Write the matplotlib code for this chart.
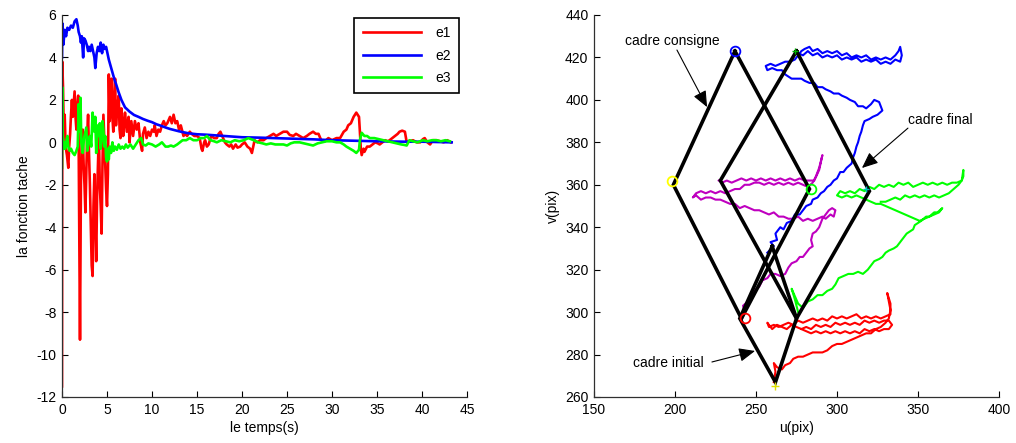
import matplotlib
matplotlib.use("Agg")
import matplotlib.pyplot as plt
import numpy as np

plt.rcParams['font.family'] = ['Liberation Sans', 'DejaVu Sans']
plt.rcParams['font.size'] = 10
plt.rcParams['axes.unicode_minus'] = False

# ---------------- Left chart data (task function vs time) ----------------
e1_t = [0, 0.03, 0.12, 0.2, 0.3, 0.4, 0.55, 0.7, 0.8, 0.9, 1.0, 1.1, 1.2, 1.3, 1.4, 1.5, 1.6, 1.7, 1.8, 1.85,
        1.9, 2.0, 2.05, 2.1, 2.2, 2.3, 2.4, 2.5, 2.6, 2.7, 2.8, 2.9, 3.0, 3.1, 3.2, 3.3, 3.4, 3.5, 3.6, 3.7,
        3.8, 3.9, 4.0, 4.1, 4.2, 4.3, 4.4, 4.5, 4.6, 4.7, 4.8, 4.9, 5.0, 5.1, 5.2, 5.3, 5.4, 5.5, 5.6, 5.7,
        5.8, 5.9, 6.0, 6.1, 6.3, 6.4, 6.5, 6.6, 6.8, 6.9, 7.0, 7.2, 7.4, 7.5, 7.7, 7.9, 8.1, 8.3, 8.5, 8.7,
        8.9, 9.0, 9.2, 9.4, 9.6, 9.8, 10.0, 10.2, 10.3, 10.5, 10.7, 10.9, 11.1, 11.3, 11.5, 11.7, 12.0, 12.2,
        12.4, 12.6, 12.8, 13.0, 13.2, 13.5, 13.7, 13.9, 14.2, 14.4, 14.7, 15.0, 15.3, 15.5, 15.6, 15.8, 15.9,
        16.1, 16.3, 16.5, 16.6, 16.9, 17.2, 17.4, 17.6, 17.9, 18.1, 18.3, 18.6, 18.8, 19.0, 19.3, 19.5, 19.8,
        20.0, 20.3, 20.6, 20.9, 21.1, 21.3, 21.4, 21.7, 22.0, 22.4, 22.7, 23.1, 23.5, 23.8, 24.2, 24.6, 25.0,
        25.3, 25.7, 26.0, 26.4, 26.8, 27.2, 27.5, 27.9, 28.2, 28.5, 28.8, 29.2, 29.6, 30.0, 30.5, 30.9, 31.3,
        31.6, 31.8, 32.1, 32.4, 32.7, 33.0, 33.1, 33.2, 33.3, 33.5, 33.6, 33.9, 34.2, 34.5, 34.8, 35.1, 35.3,
        35.6, 35.9, 36.2, 36.4, 36.7, 37.0, 37.3, 37.5, 37.8, 38.1, 38.3, 38.6, 39.0, 39.4, 39.8, 40.1, 40.3,
        40.6, 40.9, 41.2, 41.6, 42.0, 42.4, 42.8, 43.2]
e1_v = [-11.5, 3.8, 2.5, 0.4, 1.3, -0.2, -0.6, -1.2, -0.2, 0.4, 1.3, 2.0, 1.2, 1.8, 2.4, 1.2, 0.6, 1.7, 2.2, 0.0,
        -3.0, -9.3, -6.0, -2.0, 0.3, 0.6, -1.0, -2.0, -3.3, -1.5, 0.4, 1.3, -0.5, -2.0, -4.0, -5.8, -6.3, -3.0, -1.5, -3.5,
        -5.6, -2.5, -1.0, 0.5, -2.0, -3.0, -4.3, -1.0, 1.3, 0.2, -1.0, -2.2, -3.0, -1.5, 3.2, 1.0, 2.0, 3.0, 1.2, 0.5,
        2.2, 3.0, 0.8, 1.5, 2.2, 0.6, 0.2, 1.6, 0.3, 0.9, 1.4, 0.5, 1.2, 0.0, 1.0, 0.3, 1.0, 0.6, 0.9, 0.0,
        -0.4, 0.4, 0.7, 0.2, 0.5, 0.3, 0.6, 0.5, 0.8, 0.3, 0.6, 0.5, 0.8, 1.0, 0.8, 0.9, 1.2, 0.9,
        1.3, 0.9, 1.0, 0.6, 0.8, 0.3, 0.4, 0.3, 0.5, 0.4, 0.3, 0.3, 0.2, -0.3, -0.4, 0.0, 0.1,
        -0.2, -0.1, 0.2, 0.3, 0.2, 0.2, 0.4, 0.5, 0.2, 0.0, -0.1, -0.2, -0.1, -0.3, -0.1, -0.25, -0.2,
        -0.1, 0.0, -0.2, -0.3, -0.5, -0.1, 0.1, 0.0, 0.1, 0.1, 0.2, 0.3, 0.4, 0.3, 0.4, 0.5, 0.5,
        0.35, 0.3, 0.4, 0.3, 0.2, 0.3, 0.4, 0.5, 0.4, 0.4, 0.1, 0.05, 0.2, 0.1, 0.2, 0.2, 0.5,
        0.6, 0.8, 0.9, 1.2, 1.4, 1.2, 0.5, -0.3, -0.6, -0.3, -0.45, -0.2, -0.2, -0.1, 0.0, -0.05, -0.1,
        0.0, 0.1, 0.05, 0.1, 0.2, 0.3, 0.4, 0.5, 0.55, 0.5, 0.0, 0.05, 0.1, 0.0, 0.0, 0.15, 0.2,
        0.0, -0.1, 0.1, 0.1, 0.05, 0.0, 0.1, 0.0]

e2_t = [0, 0.05, 0.15, 0.3, 0.45, 0.6, 0.8, 1.0, 1.2, 1.4, 1.6, 1.75, 1.85, 2.0, 2.1, 2.2, 2.35, 2.45, 2.6, 2.75,
        2.9, 3.0, 3.15, 3.3, 3.45, 3.6, 3.7, 3.85, 4.0, 4.15, 4.3, 4.45, 4.6, 4.75, 4.9, 5.05, 5.2, 5.4, 5.6, 5.8,
        6.0, 6.3, 6.6, 7.0, 7.5, 8.0, 8.5, 9.0, 9.5, 10.0, 10.5, 11.0, 11.5, 12.0, 13.0, 14.0, 15.0, 16.0, 17.0,
        18.0, 19.0, 20.0, 22.0, 25.0, 28.0, 30.0, 33.0, 35.0, 38.0, 40.0, 43.3]
e2_v = [4.0, 5.6, 4.6, 5.3, 5.0, 5.4, 5.3, 5.5, 5.4, 5.7, 5.8, 5.5, 5.2, 5.0, 4.7, 5.0, 4.0, 4.9, 4.8, 4.6,
        4.3, 4.5, 4.3, 4.6, 4.3, 4.0, 3.5, 4.2, 4.5, 4.3, 4.7, 4.2, 4.6, 4.4, 4.5, 4.2, 3.9, 3.6, 3.3, 3.0,
        2.75, 2.35, 2.0, 1.65, 1.45, 1.29, 1.2, 1.1, 1.02, 0.95, 0.85, 0.78, 0.7, 0.63, 0.52, 0.43, 0.38, 0.36, 0.33,
        0.3, 0.27, 0.24, 0.22, 0.18, 0.14, 0.1, 0.07, 0.05, 0.03, 0.03, 0.0]

e3_t = [0, 0.03, 0.08, 0.15, 0.25, 0.35, 0.5, 0.6, 0.7, 0.85, 1.0, 1.2, 1.4, 1.6, 1.75, 1.85, 1.95, 2.05, 2.15, 2.3,
        2.45, 2.6, 2.7, 2.8, 2.95, 3.1, 3.25, 3.4, 3.5, 3.6, 3.7, 3.8, 3.9, 4.0, 4.1, 4.2, 4.3, 4.4, 4.5, 4.6,
        4.7, 4.8, 4.9, 5.0, 5.1, 5.2, 5.3, 5.45, 5.6, 5.75, 5.9, 6.1, 6.3, 6.5, 6.7, 6.9, 7.1, 7.3, 7.6, 7.9,
        8.2, 8.5, 8.8, 9.0, 9.3, 9.6, 10.0, 10.4, 10.8, 11.1, 11.5, 11.8, 12.1, 12.4, 12.8, 13.1, 13.4, 13.8,
        14.2, 14.6, 15.0, 15.4, 15.8, 16.1, 16.5, 16.9, 17.2, 17.7, 18.2, 18.7, 19.2, 19.7, 20.2, 20.7, 21.3,
        21.8, 22.3, 22.7, 23.2, 23.7, 24.2, 24.6, 25.0, 25.4, 25.8, 26.4, 26.9, 27.4, 27.9, 28.4, 28.9, 29.4,
        30.0, 30.5, 30.9, 31.3, 31.6, 32.0, 32.4, 32.7, 33.0, 33.1, 33.3, 33.6, 33.9, 34.2, 34.7, 35.2, 35.7,
        36.2, 36.7, 37.2, 37.7, 38.0, 38.3, 38.6, 39.0, 39.5, 40.1, 40.6, 41.1, 41.6, 42.1, 42.6, 43.1]
e3_v = [-1.2, 2.6, 0.5, -0.3, 0.0, -0.3, 0.1, 0.3, -0.2, -0.4, -0.3, -0.5, -0.6, -0.4, -0.2, 1.8, 0.5, 2.1, 0.0, -0.5,
        0.2, 0.5, 0.7, -0.4, 0.0, 0.3, -0.2, 1.4, 0.9, 0.5, 1.2, -0.5, 0.2, 0.8, 0.3, 0.9, -0.3, 0.2, 1.0, 0.6,
        -0.2, 0.3, -0.7, -0.9, -0.3, -0.8, -0.2, -0.5, 0.0, -0.4, -0.2, -0.35, -0.1, -0.3, -0.2, -0.3, -0.1, -0.25, -0.1, -0.3,
        -0.1, 0.1, 0.2, -0.1, -0.15, -0.05, -0.1, -0.2, -0.1, 0.0, -0.2, -0.2, -0.15, -0.2, -0.1, 0.0, 0.1, 0.1,
        0.2, 0.1, 0.1, 0.2, 0.2, 0.3, 0.1, 0.05, 0.0, 0.1, 0.05, 0.0, 0.1, 0.05, 0.1, 0.2, 0.1,
        0.0, -0.05, -0.1, -0.05, -0.1, -0.1, -0.1, -0.15, -0.05, 0.0, 0.0, -0.05, -0.1, -0.15, -0.05, 0.0, 0.05,
        0.05, 0.0, 0.0, -0.1, -0.2, -0.3, -0.4, -0.5, -0.35, 0.1, 0.45, 0.3, 0.3, 0.2, 0.2, 0.15, 0.1,
        0.05, 0.0, -0.05, -0.1, -0.12, -0.15, 0.1, 0.05, 0.0, 0.1, 0.05, 0.1, 0.1, 0.05, 0.1, 0.05]

left_xticks = [0, 5, 10, 15, 20, 25, 30, 35, 40, 45]
left_yticks = [-12, -10, -8, -6, -4, -2, 0, 2, 4, 6]

# ---------------- Right chart data (image plane trajectories) ----------------
consigne_u = [237, 283, 241, 199, 237]
consigne_v = [423, 358, 297, 360, 423]
final_u = [275, 320, 275, 228, 275]
final_v = [423, 357, 297, 362, 423]
initial_u = [260, 275, 262, 240, 260]
initial_v = [331, 297, 267, 297, 331]

consigne_pts_u = [237, 198, 284, 243]
consigne_pts_v = [423, 362, 358, 297]
consigne_pts_c = ['#0000ff', '#ffff00', '#00ff00', '#ff0000']

blue_path = [(257,328),(261,331),(259,333),(263,334),(262,337),(265,340),(267,339),(269,342),(272,343),(274,346),
             (277,346),(279,348),(281,350),(284,351),(285,353),(288,354),(290,356),(292,357),(294,359),(296,360),
             (298,362),(300,363),(302,366),(304,366),(306,368),(309,370),(310,373),(311,375),(312,378),(313,380),
             (314,383),(315,385),(316,388),(317,390),(320,391),(322,392),(325,393),(328,395),(327,397),(326,399),
             (323,400),(321,398),(318,396),(316,397),(313,397),(311,399),(308,400),(306,401),(303,402),(301,403),
             (298,403),(296,404),(293,405),(291,406),(288,406),(286,408),(283,408),(280,409),(278,410),(275,410),
             (272,410),(270,411),(268,412),(266,414),(263,414),(260,415),(257,414),(256,416),(259,417),(262,416),
             (265,417),(268,418),(271,418),(274,419),(276,421),(278,423),(280,424),(283,425),(285,423),(288,424),
             (291,422),(294,423),(297,422),(300,423),(303,421),(306,422),(309,420),(312,421),(315,420),(318,421),
             (321,419),(324,420),(327,419),(330,420),(333,419),(336,421),(338,423),(339,425),(340,421),(339,418),
             (336,419),(333,417),(330,418),(327,417),(324,419),(321,418),(318,419),(315,418),(312,420),(309,419),
             (306,420),(303,419),(300,421),(297,420),(294,421),(291,420),(288,422),(285,421),(282,423),(279,421),
             (276,422)]

magenta_path = [(241,296),(243,300),(242,303),(245,305),(247,308),(249,310),(252,312),(254,315),(257,316),(259,318),
                (262,318),(265,317),(268,318),(270,321),(272,323),(275,324),(277,326),(279,326),(281,328),(283,330),
                (285,331),(284,334),(285,337),(287,338),(289,340),(290,342),(291,344),(293,346),(295,348),(297,349),
                (299,348),(298,345),(296,346),(293,344),(291,345),(288,344),(285,343),(282,344),(279,343),(276,345),
                (273,344),(270,344),(267,345),(264,345),(261,347),(258,346),(255,347),(252,348),(249,348),(246,349),
                (243,350),(240,349),(237,351),(234,351),(231,352),(228,353),(225,353),(222,354),(219,354),(216,353),
                (213,355),(211,354),(213,356),(216,357),(219,356),(222,357),(225,356),(228,357),(231,356),(234,357),
                (237,358),(240,358),(243,360),(246,360),(249,361),(252,361),(255,360),(258,361),(261,360),(264,361),
                (267,360),(270,361),(273,360),(276,361),(279,360),(282,359),(285,361),(287,364),(289,368),(291,374),
                (289,367),(286,362),(283,362),(280,362),(277,363),(274,362),(271,363),(268,362),(265,363),(262,362),
                (259,363),(256,362),(253,363),(250,362),(247,363),(244,362),(241,363),(238,362),(235,361),(232,362),
                (229,361),(227,362)]

green_path = [(276,300),(274,306),(272,311),(276,304),(279,302),(282,305),(285,306),(288,308),(291,308),(294,310),
              (297,311),(299,313),(301,316),(304,317),(307,318),(310,318),(313,319),(316,318),(319,320),(321,322),
              (323,324),(326,325),(328,326),(330,328),(332,329),(335,330),(337,331),(339,333),(341,335),(343,337),
              (345,338),(347,339),(348,341),(350,342),(352,343),(355,345),(357,345),(360,347),(362,347),(365,349),
              (363,347),(360,346),(357,345),(354,344),(351,343),(348,344),(345,345),(342,346),(339,347),(336,348),
              (333,349),(330,350),(327,351),(324,351),(321,352),(318,353),(315,354),(312,355),(309,354),(306,355),
              (303,354),(300,355),(302,357),(305,356),(308,357),(311,356),(314,358),(317,357),(320,359),(323,358),
              (326,360),(329,359),(332,360),(335,359),(338,361),(341,360),(344,361),(347,359),(350,360),(353,361),
              (356,360),(359,361),(362,360),(365,361),(368,360),(371,361),(374,361),(377,362),(378,364),(378,367),
              (377,362),(375,360),(372,358),(369,356),(366,355),(363,354),(360,355),(357,354),(354,355),(351,354),
              (348,355),(345,354),(342,355),(339,353),(336,354),(333,353),(330,352),(327,352)]

red_path = [(261,267),(262,272),(261,276),(263,274),(266,273),(268,275),(271,276),(273,278),(276,279),(279,279),
            (282,280),(285,281),(288,281),(291,281),(294,282),(297,284),(300,285),(303,285),(306,286),(309,287),
            (312,288),(315,289),(318,290),(321,290),(324,292),(327,293),(330,295),(332,297),(333,301),(332,305),
            (331,309),(333,304),(333,299),(330,298),(327,297),(324,298),(321,297),(318,298),(315,297),(312,299),
            (309,298),(306,297),(303,298),(300,297),(297,298),(294,296),(291,297),(288,296),(285,297),(282,296),
            (279,295),(276,296),(273,294),(270,295),(267,294),(264,293),(261,294),(258,293),(257,295),(260,292),
            (263,294),(266,293),(269,292),(272,294),(275,293),(278,292),(281,293),(284,292),(287,294),(290,293),
            (293,294),(296,293),(299,295),(302,294),(305,295),(308,294),(311,295),(314,294),(317,296),(320,295),
            (323,296),(326,295),(329,296),(332,296),(334,294),(332,292),(329,292),(326,291),(323,292),(320,291),
            (317,292),(314,290),(311,291),(308,290),(305,291),(302,290),(299,291),(296,290),(293,291),(290,290),
            (287,291),(284,290),(281,291),(278,292)]

right_xticks = [150, 200, 250, 300, 350, 400]
right_yticks = [260, 280, 300, 320, 340, 360, 380, 400, 420, 440]

# ---------------- Figure ----------------
W, H = 1016, 443
fig = plt.figure(figsize=(W / 100, H / 100), dpi=100)

def fax(l, r, t, b):
    return fig.add_axes([l / W, 1 - b / H, (r - l) / W, (b - t) / H])

def style(ax):
    for s in ['top', 'right']:
        ax.spines[s].set_visible(False)
    for s in ['left', 'bottom']:
        ax.spines[s].set_color('#303030')
        ax.spines[s].set_linewidth(0.9)
    ax.tick_params(direction='in', length=4, width=0.8, pad=4, labelsize=10, colors='black')

ax1 = fax(62, 467, 15, 397)
style(ax1)
l1, = ax1.plot(e1_t, e1_v, color='#ff0000', lw=1.9, label='e1')
l2, = ax1.plot(e2_t, e2_v, color='#0000ff', lw=1.9, label='e2')
l3, = ax1.plot(e3_t, e3_v, color='#00ff00', lw=1.9, label='e3')
ax1.set_xlim(0, 45)
ax1.set_ylim(-12, 6)
ax1.set_xticks(left_xticks)
ax1.set_yticks(left_yticks)
ax1.set_xlabel('le temps(s)', fontsize=10, labelpad=3)
ax1.set_ylabel('la fonction tache', fontsize=10, labelpad=4)
leg = ax1.legend(handles=[l1, l2, l3], loc='upper right', bbox_to_anchor=(459 / W, 1 - 18 / H),
                 bbox_transform=fig.transFigure, fancybox=False, framealpha=1, edgecolor='black',
                 handlelength=4.2, handletextpad=1.0, labelspacing=0.6, borderpad=0.6, fontsize=10,
                 borderaxespad=0)
leg.get_frame().set_linewidth(1.2)

ax2 = fax(594, 999, 15, 397)
style(ax2)
ax2.set_xlim(150, 400)
ax2.set_ylim(260, 440)
ax2.set_xticks(right_xticks)
ax2.set_yticks(right_yticks)
ax2.set_xlabel('u(pix)', fontsize=10, labelpad=3)
ax2.set_ylabel('v(pix)', fontsize=10, labelpad=4)

for path, col in [(magenta_path, '#bf00bf'), (blue_path, '#0000ff'), (green_path, '#00ff00'), (red_path, '#ff0000')]:
    pu = [p[0] for p in path]
    pv = [p[1] for p in path]
    ax2.plot(pu, pv, color=col, lw=1.5)

for du, dv in [(consigne_u, consigne_v), (final_u, final_v), (initial_u, initial_v)]:
    ax2.plot(du, dv, color='black', lw=2.6, solid_joinstyle='miter', zorder=3)

for pu, pv, c in zip(consigne_pts_u, consigne_pts_v, consigne_pts_c):
    ax2.plot([pu], [pv], marker='o', mfc='none', mec=c, ms=7, mew=1.3, zorder=4)
ax2.plot([262], [265], marker='+', color='#e0e000', ms=6, mew=1, zorder=4)
ax2.plot([318], [358], marker='+', color='#00c0c0', ms=5, mew=1, zorder=4)
ax2.plot([274], [423], marker='+', color='#00b000', ms=5, mew=1, zorder=4)

arrow = dict(arrowstyle='-|>,head_length=0.7,head_width=0.3', lw=0.8, color='black',
             shrinkA=0, shrinkB=0, mutation_scale=14)
ax2.text(169, 427.7, 'cadre consigne', fontsize=10, ha='left', va='center')
ax2.annotate('', xy=(219.8, 396.6), xytext=(201.2, 423.5), arrowprops=arrow)
ax2.text(343.8, 390.5, 'cadre final', fontsize=10, ha='left', va='center')
ax2.annotate('', xy=(315.4, 367.9), xytext=(343.8, 386.7), arrowprops=arrow)
ax2.text(174, 276, 'cadre initial', fontsize=10, ha='left', va='center')
ax2.annotate('', xy=(249.4, 281.7), xytext=(222.8, 276.5), arrowprops=arrow)

fig.savefig('out.png', dpi=100)
